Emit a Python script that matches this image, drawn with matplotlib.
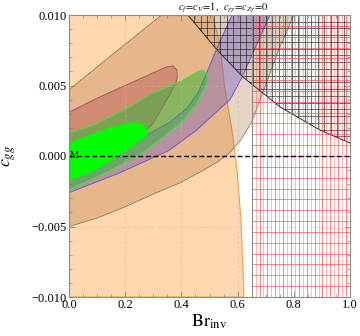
import numpy as np
import matplotlib.pyplot as plt
from matplotlib.patches import Polygon

plt.rcParams['font.family'] = ['Liberation Serif', 'DejaVu Serif']
plt.rcParams['mathtext.fontset'] = 'stix'

# region outlines, as (Br_inv, c_gg) pairs
peach_br = [0.0, 0.623, 0.612, 0.598, 0.58, 0.553, 0.537, 0.51, 0.0]
peach_c = [-0.010, -0.010, -0.0045, -0.001, 0.0018, 0.005, 0.008, 0.010, 0.010]

tan_br = [0.0, 0.167, 0.33, 0.80, 0.74, 0.69, 0.65, 0.61, 0.57, 0.53, 0.47,
          0.395, 0.3, 0.2, 0.1, 0.0]
tan_c = [0.0047, 0.0074, 0.010, 0.010, 0.0072, 0.0045, 0.0024, 0.0011, 0.0002,
         -0.0004, -0.0011, -0.0019, -0.0027, -0.0036, -0.0044, -0.0050]

purple_br = [0.0, 0.12, 0.25, 0.36, 0.42, 0.46, 0.488, 0.523, 0.58, 0.715,
             0.616, 0.573, 0.452, 0.356, 0.18, 0.0]
purple_c = [-0.0008, 0.0002, 0.0012, 0.0024, 0.0034, 0.0045, 0.0058, 0.0075,
            0.010, 0.010, 0.0056, 0.0040, 0.0018, 0.0004, -0.0012, -0.0026]

red_br = [0.0, 0.1, 0.2, 0.3, 0.345, 0.37, 0.384, 0.385, 0.381, 0.34, 0.295,
          0.24, 0.15, 0.0]
red_c = [0.0031, 0.0041, 0.0050, 0.0059, 0.0063, 0.0064, 0.0061, 0.0056,
         0.0052, 0.0037, 0.0022, 0.0012, 0.0004, -0.0002]

green_br = [0.0, 0.089, 0.2, 0.295, 0.40, 0.452, 0.475, 0.49, 0.492, 0.488,
            0.45, 0.40, 0.356, 0.274, 0.15, 0.0]
green_c = [0.0016, 0.0022, 0.0033, 0.0044, 0.0053, 0.0059, 0.0061, 0.0058,
           0.0053, 0.0050, 0.0036, 0.0024, 0.0017, 0.0004, -0.0010, -0.0024]

lime_br = [0.0, 0.146, 0.228, 0.263, 0.281, 0.278, 0.25, 0.206, 0.085, 0.0]
lime_c = [0.0009, 0.0020, 0.0024, 0.0022, 0.0018, 0.0015, 0.0011, 0.0004,
          -0.0011, -0.0017]

# black-meshed region (above the arc)
arc_br = [0.423, 0.527, 0.619, 0.751, 0.893, 1.0, 1.0]
arc_c = [0.0100, 0.00752, 0.0056, 0.00348, 0.00184, 0.00092, 0.010]

# red-meshed excluded strip
excl_br = [0.65, 1.0, 1.0, 0.65]
excl_c = [-0.010, -0.010, 0.010, 0.010]

xticks = [0.0, 0.2, 0.4, 0.6, 0.8, 1.0]
xlabels = ['0.0', '0.2', '0.4', '0.6', '0.8', '1.0']
yticks = [-0.010, -0.005, 0.0, 0.005, 0.010]
ylabels = ['\u22120.010', '\u22120.005', '0.000', '0.005', '0.010']

fig = plt.figure(figsize=(3.6, 3.36), dpi=100)
ax = fig.add_axes([69 / 360, 39 / 336, 281 / 360, 282 / 336])
ax.set_xlim(0, 1)
ax.set_ylim(-0.010, 0.010)


def region(br, c, face, alpha, edge, lw=0.7, z=1):
    ax.fill(br, c, facecolor=face, alpha=alpha, edgecolor='none', zorder=z)
    ax.plot(list(br) + [br[0]], list(c) + [c[0]], color=edge, lw=lw,
            zorder=z + 0.1)


region(peach_br, peach_c, '#FFD8B0', 1.0, '#F2A24A', 0.8, 1)
region(tan_br, tan_c, '#98581A', 0.25, '#A27654', 0.6, 2)
region(purple_br, purple_c, '#644BC8', 0.35, '#6A5ACD', 0.7, 3)
region(red_br, red_c, '#AA3C46', 0.35, '#A85868', 0.7, 4)
region(green_br, green_c, '#2EB43A', 0.5, '#3EE03E', 0.8, 5)
region(lime_br, lime_c, '#00FF00', 1.0, '#00FF00', 0.6, 6)

# faint dashed grid
for x in xticks[1:-1]:
    ax.axvline(x, color='#C8B8A8', lw=0.5, ls=(0, (4, 3)), alpha=0.6, zorder=7)
for y in [-0.005, 0.005]:
    ax.axhline(y, color='#C8B8A8', lw=0.5, ls=(0, (4, 3)), alpha=0.6, zorder=7)

# black mesh region
blk = Polygon(np.column_stack([arc_br, arc_c]), closed=True, facecolor='0.45',
              alpha=0.08, edgecolor='none', zorder=8)
ax.add_patch(blk)
ax.plot(arc_br[:-1], arc_c[:-1], color='#333333', lw=0.7, zorder=9)
for x in np.linspace(0.423, 1.0, 26):
    ln = ax.axvline(x, color='black', lw=0.5, alpha=0.75, zorder=9)
    ln.set_clip_path(blk)
for y in np.linspace(0.00092, 0.010, 20):
    ln = ax.axhline(y, color='black', lw=0.5, alpha=0.75, zorder=9)
    ln.set_clip_path(blk)

# red mesh region
ax.plot([excl_br[0], excl_br[3]], [excl_c[0], excl_c[3]], color='0.55', lw=0.8,
        zorder=10)
for i, x in enumerate(np.linspace(excl_br[0], excl_br[1], 26)[1:]):
    ax.axvline(x, color='#FF4040', lw=0.6, alpha=0.75 if i % 2 else 0.4,
               zorder=10)
for y in np.linspace(excl_c[0], excl_c[2], 27)[1:-1]:
    ax.hlines(y, excl_br[0], excl_br[1], color='#FF4040', lw=0.6, alpha=0.7,
              zorder=10)

# SM line
ax.axhline(0.0, color='black', lw=1.0, ls=(0, (3.5, 2)), zorder=11)
ax.text(0.003, 0.0, 'M', fontsize=7, ha='left', va='center', zorder=12)

ax.set_xticks(xticks)
ax.set_xticklabels(xlabels)
ax.set_yticks(yticks)
ax.set_yticklabels(ylabels)
ax.set_xticks(np.arange(0, 1.0001, 0.05), minor=True)
ax.set_yticks(np.arange(-0.010, 0.01001, 0.001), minor=True)
ax.tick_params(which='both', direction='in', top=True, right=True,
               color='0.5', labelsize=9, pad=1.5)
ax.tick_params(which='major', length=4, width=0.6)
ax.tick_params(which='minor', length=2, width=0.5)
for s in ax.spines.values():
    s.set_color('0.55')
    s.set_linewidth(0.8)
    s.set_zorder(20)

ax.set_xlabel(r'$\mathrm{Br}_{\mathrm{inv}}$', fontsize=13, labelpad=1)
ax.set_ylabel(r'$c_{gg}$', fontsize=13)
ax.yaxis.set_label_coords(-0.18, 0.5)
fig.text(223 / 360, 1 - 7.5 / 336,
         r'$c_f\!=\!c_V\!=\!1,\;\; c_{\gamma\gamma}\!=\!c_{Z\gamma}\!=\!0$',
         fontsize=7.5, ha='center', va='center')

fig.savefig('out.png', dpi=100)
